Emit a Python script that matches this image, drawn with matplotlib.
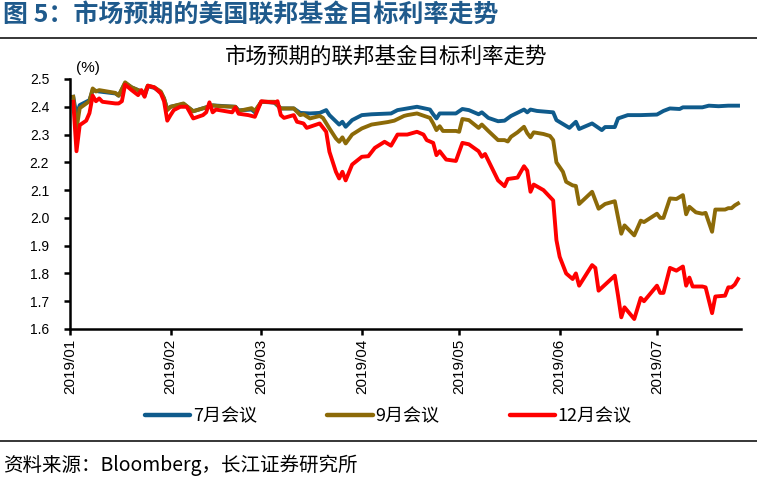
import matplotlib
matplotlib.use("Agg")
import matplotlib.pyplot as plt
import matplotlib.dates as mdates
import pandas as pd
from matplotlib.lines import Line2D

# ---------------- data ----------------
jul_dates = ["01-02", "01-03", "01-04", "01-07", "01-08", "01-10", "01-15", "01-16", "01-18", "01-20",
             "01-23", "01-24", "01-25", "01-27", "01-29", "01-30", "01-31", "02-01", "02-05", "02-08",
             "02-14", "02-21", "02-22", "02-26", "02-27", "03-01", "03-05", "03-07", "03-11", "03-13",
             "03-16", "03-19", "03-21", "03-22", "03-25", "03-26", "03-27", "03-29", "04-01", "04-04",
             "04-10", "04-12", "04-15", "04-18", "04-22", "04-23", "04-24", "04-25", "04-30", "05-02",
             "05-04", "05-07", "05-08", "05-10", "05-13", "05-15", "05-17", "05-21", "05-22", "05-23",
             "05-25", "05-30", "05-31", "06-04", "06-06", "06-07", "06-11", "06-14", "06-15", "06-18",
             "06-19", "06-22", "06-26", "07-01", "07-03", "07-05", "07-08", "07-09", "07-15", "07-17",
             "07-20", "07-23", "07-26"]
jul_values = [2.436, 2.37, 2.406, 2.424, 2.46, 2.455, 2.448, 2.44, 2.485, 2.47,
              2.455, 2.44, 2.474, 2.468, 2.452, 2.43, 2.39, 2.40, 2.41, 2.384,
              2.405, 2.40, 2.387, 2.39, 2.38, 2.418, 2.415, 2.394, 2.394, 2.378,
              2.376, 2.378, 2.388, 2.37, 2.336, 2.346, 2.328, 2.352, 2.37, 2.373,
              2.376, 2.388, 2.394, 2.40, 2.39, 2.373, 2.358, 2.376, 2.376, 2.392,
              2.388, 2.373, 2.38, 2.36, 2.348, 2.35, 2.367, 2.39, 2.38, 2.39,
              2.385, 2.38, 2.352, 2.324, 2.346, 2.32, 2.34, 2.316, 2.327, 2.327,
              2.358, 2.37, 2.37, 2.372, 2.385, 2.394, 2.392, 2.398, 2.398, 2.404,
              2.402, 2.404, 2.404]

sep_dates = ["01-02", "01-03", "01-04", "01-07", "01-08", "01-09", "01-10", "01-15", "01-16", "01-18",
             "01-20", "01-23", "01-24", "01-25", "01-27", "01-29", "01-30", "01-31", "02-01", "02-05",
             "02-08", "02-14", "02-16", "02-21", "02-22", "02-26", "02-27", "03-01", "03-05", "03-07",
             "03-11", "03-13", "03-14", "03-16", "03-19", "03-20", "03-22", "03-24", "03-25", "03-26",
             "03-27", "03-29", "04-01", "04-04", "04-09", "04-11", "04-14", "04-15", "04-18", "04-22",
             "04-23", "04-24", "04-25", "04-26", "04-30", "05-01", "05-02", "05-04", "05-07", "05-08",
             "05-10", "05-13", "05-15", "05-16", "05-17", "05-19", "05-21", "05-22", "05-23", "05-24",
             "05-27", "05-29", "05-30", "05-31", "06-02", "06-03", "06-05", "06-06", "06-07", "06-11",
             "06-13", "06-15", "06-18", "06-20", "06-21", "06-24", "06-26", "06-27", "07-01", "07-02",
             "07-03", "07-05", "07-07", "07-09", "07-10", "07-11", "07-13", "07-15", "07-16", "07-18",
             "07-19", "07-22", "07-23", "07-24", "07-25", "07-26"]
sep_values = [2.436, 2.32, 2.395, 2.42, 2.466, 2.455, 2.46, 2.45, 2.44, 2.488,
              2.47, 2.455, 2.45, 2.476, 2.47, 2.455, 2.43, 2.388, 2.40, 2.412,
              2.384, 2.405, 2.402, 2.40, 2.385, 2.395, 2.385, 2.418, 2.418, 2.394,
              2.394, 2.37, 2.373, 2.358, 2.367, 2.36, 2.322, 2.286, 2.274, 2.29,
              2.268, 2.30, 2.322, 2.336, 2.345, 2.35, 2.367, 2.37, 2.376, 2.36,
              2.34, 2.316, 2.33, 2.313, 2.313, 2.31, 2.356, 2.352, 2.324, 2.336,
              2.313, 2.28, 2.28, 2.275, 2.292, 2.308, 2.328, 2.305, 2.29, 2.308,
              2.302, 2.295, 2.28, 2.20, 2.166, 2.13, 2.117, 2.115, 2.05, 2.094,
              2.033, 2.05, 2.06, 1.943, 1.973, 1.937, 1.99, 1.985, 2.015, 2.0,
              2.0, 2.07, 2.068, 2.082, 2.013, 2.04, 2.02, 2.015, 2.018, 1.95,
              2.03, 2.03, 2.035, 2.035, 2.045, 2.052]

dec_dates = ["01-02", "01-03", "01-04", "01-06", "01-07", "01-08", "01-09", "01-10", "01-11", "01-15",
             "01-16", "01-17", "01-18", "01-20", "01-22", "01-23", "01-24", "01-25", "01-27", "01-29",
             "01-30", "01-31", "02-01", "02-02", "02-04", "02-06", "02-08", "02-11", "02-12", "02-13",
             "02-14", "02-15", "02-20", "02-21", "02-22", "02-25", "02-27", "03-01", "03-05", "03-06",
             "03-07", "03-08", "03-11", "03-12", "03-14", "03-15", "03-19", "03-21", "03-22", "03-24",
             "03-25", "03-26", "03-27", "03-29", "04-01", "04-03", "04-05", "04-08", "04-10", "04-12",
             "04-14", "04-15", "04-18", "04-20", "04-21", "04-23", "04-24", "04-25", "04-27", "04-30",
             "05-02", "05-04", "05-07", "05-08", "05-09", "05-13", "05-15", "05-16", "05-19", "05-21",
             "05-22", "05-23", "05-24", "05-27", "05-30", "05-31", "06-01", "06-03", "06-05", "06-06",
             "06-07", "06-11", "06-12", "06-13", "06-18", "06-19", "06-20", "06-21", "06-24", "06-26",
             "06-27", "07-01", "07-02", "07-03", "07-05", "07-07", "07-09", "07-10", "07-11", "07-12",
             "07-15", "07-16", "07-18", "07-19", "07-22", "07-23", "07-24", "07-25", "07-26"]
dec_values = [2.418, 2.24, 2.334, 2.35, 2.377, 2.44, 2.42, 2.43, 2.418, 2.412,
              2.412, 2.42, 2.48, 2.46, 2.442, 2.46, 2.436, 2.476, 2.47, 2.448,
              2.42, 2.35, 2.37, 2.388, 2.40, 2.40, 2.358, 2.37, 2.38, 2.416,
              2.38, 2.39, 2.38, 2.398, 2.375, 2.37, 2.364, 2.42, 2.415, 2.42,
              2.37, 2.36, 2.37, 2.346, 2.34, 2.324, 2.34, 2.31, 2.238, 2.166,
              2.142, 2.166, 2.135, 2.192, 2.22, 2.222, 2.252, 2.274, 2.26, 2.30,
              2.30, 2.30, 2.31, 2.30, 2.28, 2.27, 2.226, 2.24, 2.21, 2.205,
              2.27, 2.265, 2.24, 2.22, 2.23, 2.135, 2.114, 2.14, 2.145, 2.186,
              2.17, 2.094, 2.12, 2.10, 2.063, 1.92, 1.86, 1.80, 1.78, 1.80,
              1.756, 1.83, 1.82, 1.738, 1.792, 1.72, 1.642, 1.678, 1.636, 1.712,
              1.70, 1.756, 1.73, 1.73, 1.82, 1.81, 1.825, 1.756, 1.785, 1.753,
              1.753, 1.75, 1.657, 1.717, 1.72, 1.75, 1.75, 1.76, 1.78]

series_names = ["7月会议", "9月会议", "12月会议"]
series_colors = ["#0F5B8C", "#8C6A08", "#FF0000"]
y_ticks = [1.6, 1.7, 1.8, 1.9, 2.0, 2.1, 2.2, 2.3, 2.4, 2.5]

fig_title = "图 5：市场预期的美国联邦基金目标利率走势"
chart_title = "市场预期的联邦基金目标利率走势"
unit_label = "(%)"
source_text = "资料来源：Bloomberg，长江证券研究所"

# ---------------- drawing ----------------
W, H = 757, 479
fig = plt.figure(figsize=(W / 100, H / 100), dpi=100)
fig.patch.set_facecolor("white")

cjk = ["Noto Sans CJK SC", "DejaVu Sans"]
num = ["Liberation Sans", "DejaVu Sans"]

ax = fig.add_axes([70 / W, 1 - 329 / H, (741 - 70) / W, (329 - 79) / H])

def to_dt(lst):
    return pd.to_datetime(["2019-" + s for s in lst])

all_series = [(jul_dates, jul_values), (sep_dates, sep_values), (dec_dates, dec_values)]
for (ds, vs), name, col in zip(all_series, series_names, series_colors):
    ax.plot(to_dt(ds), vs, color=col, lw=2.8, label=name, solid_joinstyle="round")

ax.set_ylim(1.6, 2.5)
ax.set_yticks(y_ticks)
ax.set_yticklabels([f"{v:.1f}" for v in y_ticks], fontfamily=num, fontsize=10)
ax.set_xlim(pd.Timestamp("2019-01-01"), pd.Timestamp("2019-07-26 22:00"))
ax.xaxis.set_major_locator(mdates.MonthLocator())
ax.xaxis.set_major_formatter(mdates.DateFormatter("%Y/%m"))
for lab in ax.get_xticklabels():
    lab.set_fontfamily(num)
    lab.set_fontsize(11)
    lab.set_rotation(90)

for s in ["top", "right"]:
    ax.spines[s].set_visible(False)
for s in ["left", "bottom"]:
    ax.spines[s].set_linewidth(1.8)
    ax.spines[s].set_color("black")
ax.tick_params(axis="y", direction="out", length=4, width=1.8, pad=11, colors="black")
ax.tick_params(axis="x", direction="out", length=4, width=1.8, pad=3, colors="black")
ax.set_facecolor("white")

# texts
fig.text(3 / W, 1 - 15 / H, fig_title, fontfamily=cjk, fontsize=18, fontweight="bold",
         color="#1F5A8C", ha="left", va="center")
fig.add_artist(Line2D([0, 1], [1 - 38 / H, 1 - 38 / H], color="black", lw=1.1,
                      transform=fig.transFigure))
fig.text(386 / W, 1 - 57 / H, chart_title, fontfamily=cjk, fontsize=15.5,
         color="black", ha="center", va="center")
fig.text(88 / W, 1 - 68 / H, unit_label, fontfamily=num, fontsize=11,
         color="black", ha="center", va="center")

handles = [Line2D([], [], color=c, lw=3.2, solid_capstyle="round") for c in series_colors]
fig.legend(handles, series_names, loc="center", bbox_to_anchor=(0.513, 1 - 416 / H),
           ncol=3, frameon=False, handlelength=2.5, handletextpad=0.15, columnspacing=3.9,
           prop={"family": cjk, "size": 13})

fig.add_artist(Line2D([0, 1], [1 - 441 / H, 1 - 441 / H], color="black", lw=1.1,
                      transform=fig.transFigure))
fig.text(3 / W, 1 - 465 / H, source_text, fontfamily=cjk, fontsize=14,
         color="black", ha="left", va="center")

fig.savefig("out.png", dpi=100, facecolor="white")
